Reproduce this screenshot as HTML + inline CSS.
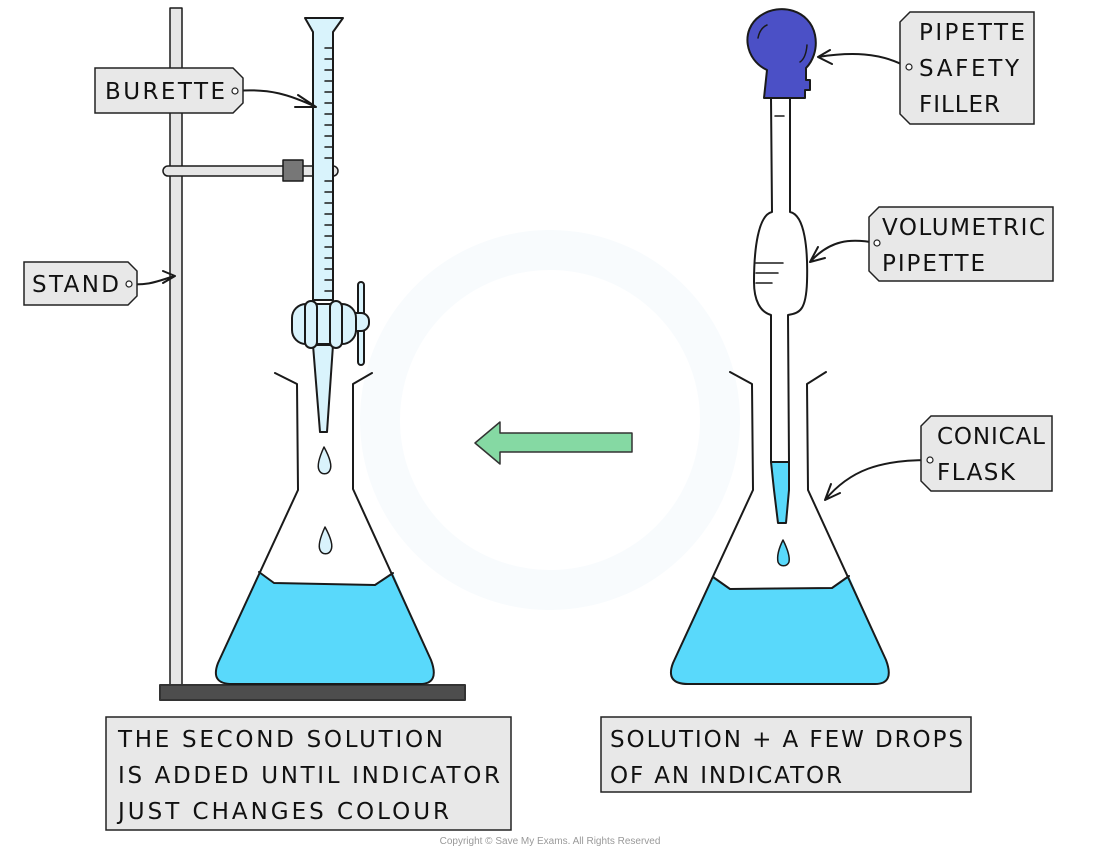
<!DOCTYPE html>
<html><head><meta charset="utf-8"><style>
html,body{margin:0;padding:0;background:#fff;width:1100px;height:849px;overflow:hidden}
svg text{font-family:"DejaVu Sans","Liberation Sans",sans-serif;font-size:23px;fill:#111}
</style></head><body>
<svg width="1100" height="849" viewBox="0 0 1100 849" xmlns="http://www.w3.org/2000/svg">
<g fill="none" stroke="#1a1a1a" stroke-width="2" stroke-linejoin="round" stroke-linecap="round">
<circle cx="550" cy="420" r="170" stroke="#f8fbfd" stroke-width="40"/>
<rect x="170" y="8" width="12" height="678" fill="#e6e6e6" stroke-width="1.5"/>
<rect x="160" y="685" width="305" height="15" fill="#4d4d4d" stroke="#333"/>
<rect x="163" y="166" width="175" height="10" rx="5" fill="#e6e6e6" stroke-width="1.5"/>
<rect x="283" y="160" width="20" height="21" fill="#777" stroke-width="1.5"/>
<path d="M305 18 L343 18 L333 32 L333 300 L313 300 L313 32 Z" fill="#d9f3fc"/>
<g stroke-width="1.5">
<path d="M325 48h8M325 59h8M325 70h8M325 81h8M325 92h8M325 103h8M325 114h8M325 125h8M325 136h8M325 147h8M325 158h8M325 181h8M325 192h8M325 203h8M325 214h8M325 225h8M325 236h8M325 247h8M325 258h8M325 269h8M325 280h8M325 291h8"/>
</g>
<path d="M313 345 L333 345 L327 432 L320 432 Z" fill="#d9f3fc"/>
<rect x="358" y="282" width="6" height="83" rx="3" fill="#d9f3fc"/>
<rect x="345" y="313" width="24" height="18" rx="8" fill="#d9f3fc"/>
<rect x="292" y="304" width="64" height="40" rx="14" fill="#d9f3fc"/>
<rect x="305" y="301" width="12" height="47" rx="6" fill="#d9f3fc"/>
<rect x="330" y="301" width="12" height="47" rx="6" fill="#d9f3fc"/>
<path d="M324 447 C319 458 317 466 319 470 C321 475 328 475 330 470 C332 466 330 458 324 447 Z" fill="#d9f3fc" stroke-width="1.5"/>
<path d="M325 527 C320 538 318 546 320 550 C322 555 329 555 331 550 C333 546 331 538 325 527 Z" fill="#d9f3fc" stroke-width="1.5"/>
<path d="M259 572 L274 583 L375 585 L393 573 L431 660 Q440 684 420 684 L232 684 Q210 684 218 663 Z" fill="#59d9fb" stroke="none"/>
<path d="M275 373 L297 384 L298 490 L218 663 Q210 684 232 684 L420 684 Q440 684 431 660 L353 489 L353 384 L372 373"/>
<path d="M259 572 L274 583 L375 585 L393 573"/>
<path d="M632 433 L500 433 L500 422 L475 443 L500 464 L500 452 L632 452 Z" fill="#85d9a3" stroke="#333" stroke-width="1.5"/>
<path d="M713 577 L730 589 L832 588 L849 576 L886 660 Q895 684 875 684 L688 684 Q665 684 673 663 Z" fill="#59d9fb" stroke="none"/>
<path d="M730 372 L752 384 L753 490 L673 663 Q665 684 688 684 L875 684 Q895 684 886 660 L808 490 L807 384 L826 372"/>
<path d="M713 577 L730 589 L832 588 L849 576"/>
<path d="M771 98 L790 98 L790 212 C805 215 808 250 807 282 C806 310 800 313 788 315 L789 462 L771 462 L771 315 C760 312 754 300 754 282 C754 250 758 215 772 212 Z" fill="#fff"/>
<path d="M771 462 L789 462 L789 490 L786 523 L778 523 L774 490 Z" fill="#59d9fb"/>
<path d="M775 116h9M756 263h27M756 273h22M756 283h16" stroke-width="1.5"/>
<path d="M783 540 C778 550 777 557 778 562 C780 567 787 567 789 562 C790 557 788 550 783 540 Z" fill="#59d9fb" stroke-width="1.5"/>
<path d="M767 70 C745 60 740 30 760 16 C780 2 810 10 815 35 C818 50 812 62 806 68 L806 80 L810 80 L810 90 L805 90 L805 98 L764 98 Z" fill="#4b50c6"/>
<path d="M758 38 Q760 28 767 25 M800 62 Q806 58 807 45" stroke-width="1.5"/>
<path d="M235 91 C270 88 290 95 316 107 M298 95 L316 107 L295 107"/>
<path d="M128 284 C150 286 160 280 175 276 M163 283 L175 276 L163 271"/>
<path d="M907 67 C880 52 850 52 818 57 M830 50 L818 57 L832 64"/>
<path d="M876 243 C850 238 830 240 810 262 M818 247 L810 262 L825 258"/>
<path d="M929 460 C880 460 850 470 825 500 M831 484 L825 500 L840 493"/>
</g>
<g fill="#e8e8e8" stroke="#222" stroke-width="1.5">
<path d="M95 68 L233 68 L243 78 L243 103 L233 113 L95 113 Z"/>
<path d="M24 262 L128 262 L137 271 L137 296 L128 305 L24 305 Z"/>
<path d="M910 12 L1034 12 L1034 124 L910 124 L900 114 L900 22 Z"/>
<path d="M879 207 L1053 207 L1053 281 L879 281 L869 271 L869 217 Z"/>
<path d="M931 416 L1052 416 L1052 491 L931 491 L921 481 L921 426 Z"/>
<rect x="106" y="717" width="405" height="113"/>
<rect x="601" y="717" width="370" height="75"/>
</g>
<g fill="#fff" stroke="#222" stroke-width="1.2">
<circle cx="235" cy="91" r="3"/><circle cx="129" cy="284" r="3"/>
<circle cx="909" cy="67" r="3"/><circle cx="877" cy="243" r="3"/><circle cx="930" cy="460" r="3"/>
</g>
<text x="105" y="99" textLength="120" lengthAdjust="spacing">BURETTE</text>
<text x="32" y="292" textLength="87" lengthAdjust="spacing">STAND</text>
<text x="919" y="40" textLength="106" lengthAdjust="spacing">PIPETTE</text>
<text x="919" y="76" textLength="100" lengthAdjust="spacing">SAFETY</text>
<text x="919" y="112" textLength="81" lengthAdjust="spacing">FILLER</text>
<text x="882" y="235" textLength="163" lengthAdjust="spacing">VOLUMETRIC</text>
<text x="882" y="271" textLength="103" lengthAdjust="spacing">PIPETTE</text>
<text x="937" y="444" textLength="108" lengthAdjust="spacing">CONICAL</text>
<text x="937" y="480" textLength="78" lengthAdjust="spacing">FLASK</text>
<text x="118" y="747" textLength="325" lengthAdjust="spacing">THE SECOND SOLUTION</text>
<text x="118" y="783" textLength="382" lengthAdjust="spacing">IS ADDED UNTIL INDICATOR</text>
<text x="118" y="819" textLength="331" lengthAdjust="spacing">JUST CHANGES COLOUR</text>
<text x="610" y="747" textLength="353" lengthAdjust="spacing">SOLUTION + A FEW DROPS</text>
<text x="610" y="783" textLength="232" lengthAdjust="spacing">OF AN INDICATOR</text>
<text x="550" y="844" text-anchor="middle" style="font-size:10px;fill:#999;font-family:'Liberation Sans',sans-serif">Copyright © Save My Exams. All Rights Reserved</text>
</svg>
</body></html>
